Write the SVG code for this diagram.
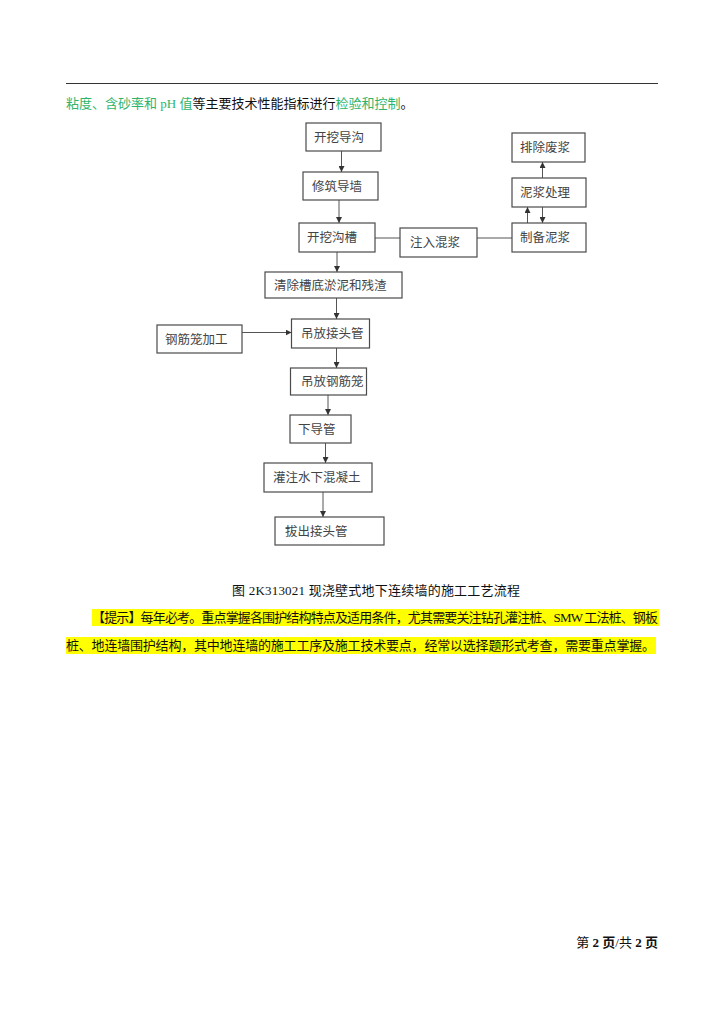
<svg xmlns="http://www.w3.org/2000/svg" width="724" height="1024" viewBox="0 0 724 1024">
<style>
.bg{fill:#ffffff}
.box{fill:#ffffff;stroke:#4a4a4a;stroke-width:1.2}
.lbl{font-family:"Noto Sans CJK SC","Liberation Sans",sans-serif;font-size:12.5px;fill:#444}
.body{font-family:"Liberation Serif","Noto Sans CJK SC",serif;font-size:13px;fill:#111}
.green{fill:#2db56b}
.con{stroke:#555;stroke-width:1;fill:none}
.hl{fill:#ffff00}
</style>
<defs>
<marker id="ah" viewBox="0 0 10 10" refX="10" refY="5" markerWidth="6" markerHeight="6" orient="auto" markerUnits="userSpaceOnUse">
<path d="M0,0 L10,5 L0,10 z" fill="#333"/>
</marker>
</defs>
<rect class="bg" x="0" y="0" width="724" height="1024"/>
<line x1="66" y1="83.5" x2="658" y2="83.5" stroke="#333" stroke-width="1"/>
<text class="body" x="66" y="108"><tspan class="green">粘度、含砂率和 pH 值</tspan>等主要技术性能指标进行<tspan class="green">检验和控制</tspan>。</text>

<g id="connectors">
<line class="con" x1="341.5" y1="151" x2="341.5" y2="172" marker-end="url(#ah)"/>
<line class="con" x1="339" y1="200" x2="339" y2="223" marker-end="url(#ah)"/>
<line class="con" x1="337" y1="252" x2="337" y2="272" marker-end="url(#ah)"/>
<line class="con" x1="336.5" y1="298" x2="336.5" y2="319" marker-end="url(#ah)"/>
<line class="con" x1="336.5" y1="348" x2="336.5" y2="368" marker-end="url(#ah)"/>
<line class="con" x1="328" y1="395" x2="328" y2="415" marker-end="url(#ah)"/>
<line class="con" x1="325.5" y1="443" x2="325.5" y2="463" marker-end="url(#ah)"/>
<line class="con" x1="323" y1="492" x2="323" y2="517" marker-end="url(#ah)"/>
<line class="con" x1="242" y1="332.5" x2="291.5" y2="332.5" marker-end="url(#ah)"/>
<line class="con" x1="375" y1="238" x2="400" y2="238"/>
<line class="con" x1="477" y1="238" x2="512" y2="238"/>
<line class="con" x1="527.5" y1="223" x2="527.5" y2="207" marker-end="url(#ah)"/>
<line class="con" x1="542.5" y1="207" x2="542.5" y2="223" marker-end="url(#ah)"/>
<line class="con" x1="542.5" y1="178" x2="542.5" y2="162" marker-end="url(#ah)"/>
</g>

<g id="n1"><rect class="box" x="306" y="123" width="75" height="28"/><text class="lbl" x="314" y="142">开挖导沟</text></g>
<g id="n2"><rect class="box" x="303" y="172" width="75" height="28"/><text class="lbl" x="312" y="191">修筑导墙</text></g>
<g id="n3"><rect class="box" x="299" y="223" width="76" height="29"/><text class="lbl" x="307" y="242">开挖沟槽</text></g>
<g id="n4"><rect class="box" x="400" y="228" width="77" height="29"/><text class="lbl" x="410" y="247">注入混浆</text></g>
<g id="n5"><rect class="box" x="512" y="223" width="74" height="29"/><text class="lbl" x="520" y="242">制备泥浆</text></g>
<g id="n6"><rect class="box" x="512" y="178" width="74" height="29"/><text class="lbl" x="520" y="197">泥浆处理</text></g>
<g id="n7"><rect class="box" x="512" y="133" width="73" height="29"/><text class="lbl" x="520" y="152">排除废浆</text></g>
<g id="n8"><rect class="box" x="265" y="272" width="137" height="26"/><text class="lbl" x="274" y="290">清除槽底淤泥和残渣</text></g>
<g id="n9"><rect class="box" x="291.5" y="319" width="78" height="29"/><text class="lbl" x="301" y="338">吊放接头管</text></g>
<g id="n10"><rect class="box" x="157" y="325" width="85" height="28"/><text class="lbl" x="165" y="344">钢筋笼加工</text></g>
<g id="n11"><rect class="box" x="290.5" y="368" width="76" height="27"/><text class="lbl" x="301" y="386">吊放钢筋笼</text></g>
<g id="n12"><rect class="box" x="290" y="415" width="61" height="28"/><text class="lbl" x="298" y="434">下导管</text></g>
<g id="n13"><rect class="box" x="264" y="463" width="108" height="29"/><text class="lbl" x="273" y="482">灌注水下混凝土</text></g>
<g id="n14"><rect class="box" x="275" y="517" width="109" height="28"/><text class="lbl" x="285" y="536">拔出接头管</text></g>

<text class="body" x="232" y="595" textLength="288" lengthAdjust="spacing">图 2K313021 现浇壁式地下连续墙的施工工艺流程</text>

<rect class="hl" x="92" y="609" width="567" height="17"/>
<rect class="hl" x="66" y="637" width="590" height="17"/>
<text class="body" x="92" y="622" textLength="566" lengthAdjust="spacing">【提示】每年必考。重点掌握各围护结构特点及适用条件，尤其需要关注钻孔灌注桩、SMW 工法桩、钢板</text>
<text class="body" x="66" y="650" textLength="589" lengthAdjust="spacing">桩、地连墙围护结构，其中地连墙的施工工序及施工技术要点，经常以选择题形式考查，需要重点掌握。</text>

<text class="body" x="658" y="947" font-size="12" text-anchor="end">第 <tspan font-weight="bold">2 页</tspan>/共 <tspan font-weight="bold">2 页</tspan></text>
</svg>
